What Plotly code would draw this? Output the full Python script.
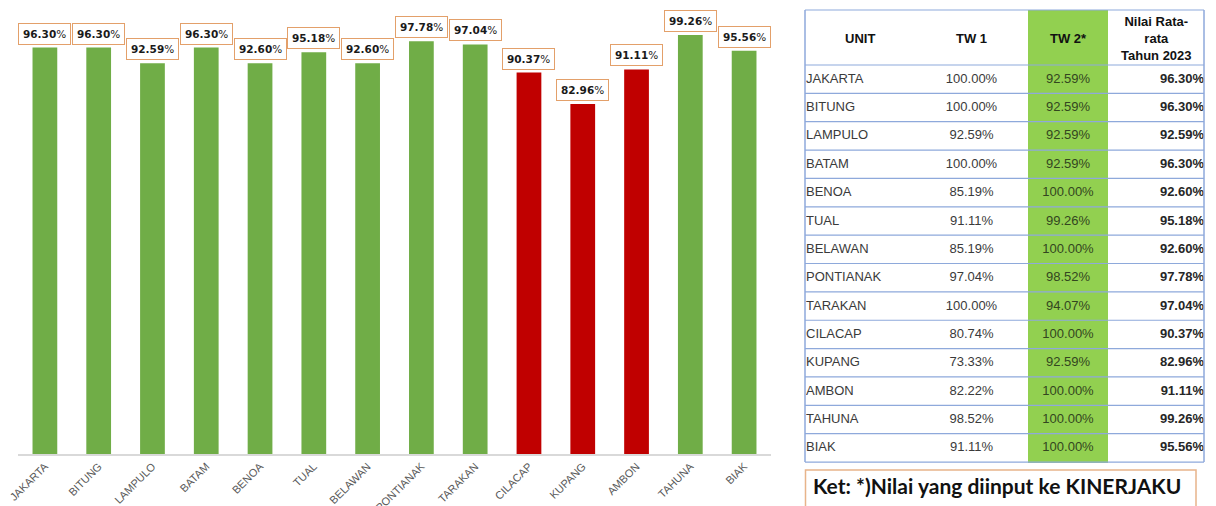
import plotly.graph_objects as go

units = ["JAKARTA", "BITUNG", "LAMPULO", "BATAM", "BENOA", "TUAL", "BELAWAN",
         "PONTIANAK", "TARAKAN", "CILACAP", "KUPANG", "AMBON", "TAHUNA", "BIAK"]
tw1 = [100.00, 100.00, 92.59, 100.00, 85.19, 91.11, 85.19, 97.04, 100.00, 80.74, 73.33, 82.22, 98.52, 91.11]
tw2 = [92.59, 92.59, 92.59, 92.59, 100.00, 99.26, 100.00, 98.52, 94.07, 100.00, 92.59, 100.00, 100.00, 100.00]
avg = [96.30, 96.30, 92.59, 96.30, 92.60, 95.18, 92.60, 97.78, 97.04, 90.37, 82.96, 91.11, 99.26, 95.56]
headers = ["UNIT", "TW 1", "TW 2*", "Nilai Rata-<br>rata<br>Tahun 2023"]
note = "Ket: *)Nilai yang diinput ke KINERJAKU"

GREEN = "#70AD47"
RED = "#C00000"
TBL_GREEN = "#92D050"
BLUE = "#8EA9DB"
ORANGE = "#E3A06A"
THRESH = 92.0

W, H = 1216, 506


def px(x):
    return x / W


def py(y):
    return 1 - y / H


bar_colors = [GREEN if v >= THRESH else RED for v in avg]

fig = go.Figure()
fig.add_trace(go.Bar(
    x=units, y=avg, marker=dict(color=bar_colors, line=dict(width=0)),
    xaxis="x", yaxis="y", showlegend=False, hoverinfo="x+y",
))

# table
col_fill = ["white", "white", TBL_GREEN, "white"]
tbl_left, tbl_right = 798, 1212
col_w = [117, 113, 80, 104]
hdr_h = 55
row_h = 28.36
tbl_top = 10

fig.add_trace(go.Table(
    domain=dict(x=[px(tbl_left), px(tbl_right)], y=[0, py(tbl_top)]),
    columnwidth=col_w,
    header=dict(
        values=["", "", "", ""],
        fill=dict(color=col_fill),
        line=dict(color=col_fill, width=1),
        height=hdr_h,
    ),
    cells=dict(
        values=[units,
                [f"{v:.2f}%" for v in tw1],
                [f"{v:.2f}%" for v in tw2],
                [f"{v:.2f}%" for v in avg]],
        fill=dict(color=col_fill),
        line=dict(color=col_fill, width=1),
        align=["left", "center", "center", "right"],
        font=dict(family="Liberation Sans, Arial", size=13,
                  color=["#3a3a3a", "#3a3a3a", "#33461f", "#262626"],
                  weight=["normal", "normal", "normal", "bold"]),
        height=row_h,
    ),
))

shapes = []
n = len(units)
ys = [tbl_top, tbl_top + hdr_h] + [tbl_top + hdr_h + row_h * (i + 1) for i in range(n)]
for yy in ys:
    shapes.append(dict(type="line", xref="paper", yref="paper",
                       x0=px(805), x1=px(1204), y0=py(yy), y1=py(yy),
                       line=dict(color=BLUE, width=1.2), layer="above"))
for xx in (805, 1204):
    shapes.append(dict(type="line", xref="paper", yref="paper",
                       x0=px(xx), x1=px(xx), y0=py(tbl_top), y1=py(ys[-1]),
                       line=dict(color=BLUE, width=1.5), layer="above"))
shapes.append(dict(type="rect", xref="paper", yref="paper",
                   x0=px(805.5), x1=px(1196), y0=py(470), y1=py(512),
                   line=dict(color="#E8B48A", width=1.5), fillcolor="white", layer="above"))

annotations = []
for u, v in zip(units, avg):
    annotations.append(dict(
        x=u, y=v, xref="x", yref="y", text=f"<b>{v:.2f}</b>%",
        showarrow=False, yanchor="bottom", yshift=3,
        font=dict(family="DejaVu Sans, Verdana", size=10.5, color="#1a1a1a"),
        bgcolor="white", bordercolor=ORANGE, borderwidth=1, borderpad=4,
    ))

# table header labels
hdr_centers = [860, 971.5, 1068, 1156]
for cx, t in zip(hdr_centers, headers):
    annotations.append(dict(
        x=px(cx), y=py(tbl_top + hdr_h / 2 + 1), xref="paper", yref="paper",
        text=f"<b>{t}</b>", showarrow=False, xanchor="center", yanchor="middle",
        align="center",
        font=dict(family="Liberation Sans, Arial", size=13, color="#111111"),
    ))

annotations.append(dict(
    x=px(811), y=py(485), xref="paper", yref="paper",
    text=f"<b>{note}</b>",
    showarrow=False, xanchor="left", yanchor="middle",
    font=dict(family="Lato, Open Sans", size=21, color="#111111"),
))

fig.update_layout(
    width=W, height=H,
    margin=dict(l=0, r=0, t=0, b=0),
    paper_bgcolor="white", plot_bgcolor="white",
    bargap=0.54,
    xaxis=dict(domain=[px(18), px(771)], showgrid=False, showline=True,
               linecolor="#D9D9D9", linewidth=1.5, ticks="", tickangle=-45,
               tickfont=dict(family="Liberation Sans Narrow, Liberation Sans, Arial", size=11, color="#595959"),
               automargin=False, fixedrange=True),
    yaxis=dict(domain=[py(454), py(2)], range=[0, 107.1], showgrid=False,
               showline=False, showticklabels=False, zeroline=False,
               automargin=False, fixedrange=True),
    shapes=shapes,
    annotations=annotations,
)

fig.write_html("out.html", config={"displayModeBar": False},
               post_script="document.body.style.margin='0';document.body.style.overflow='hidden';")
